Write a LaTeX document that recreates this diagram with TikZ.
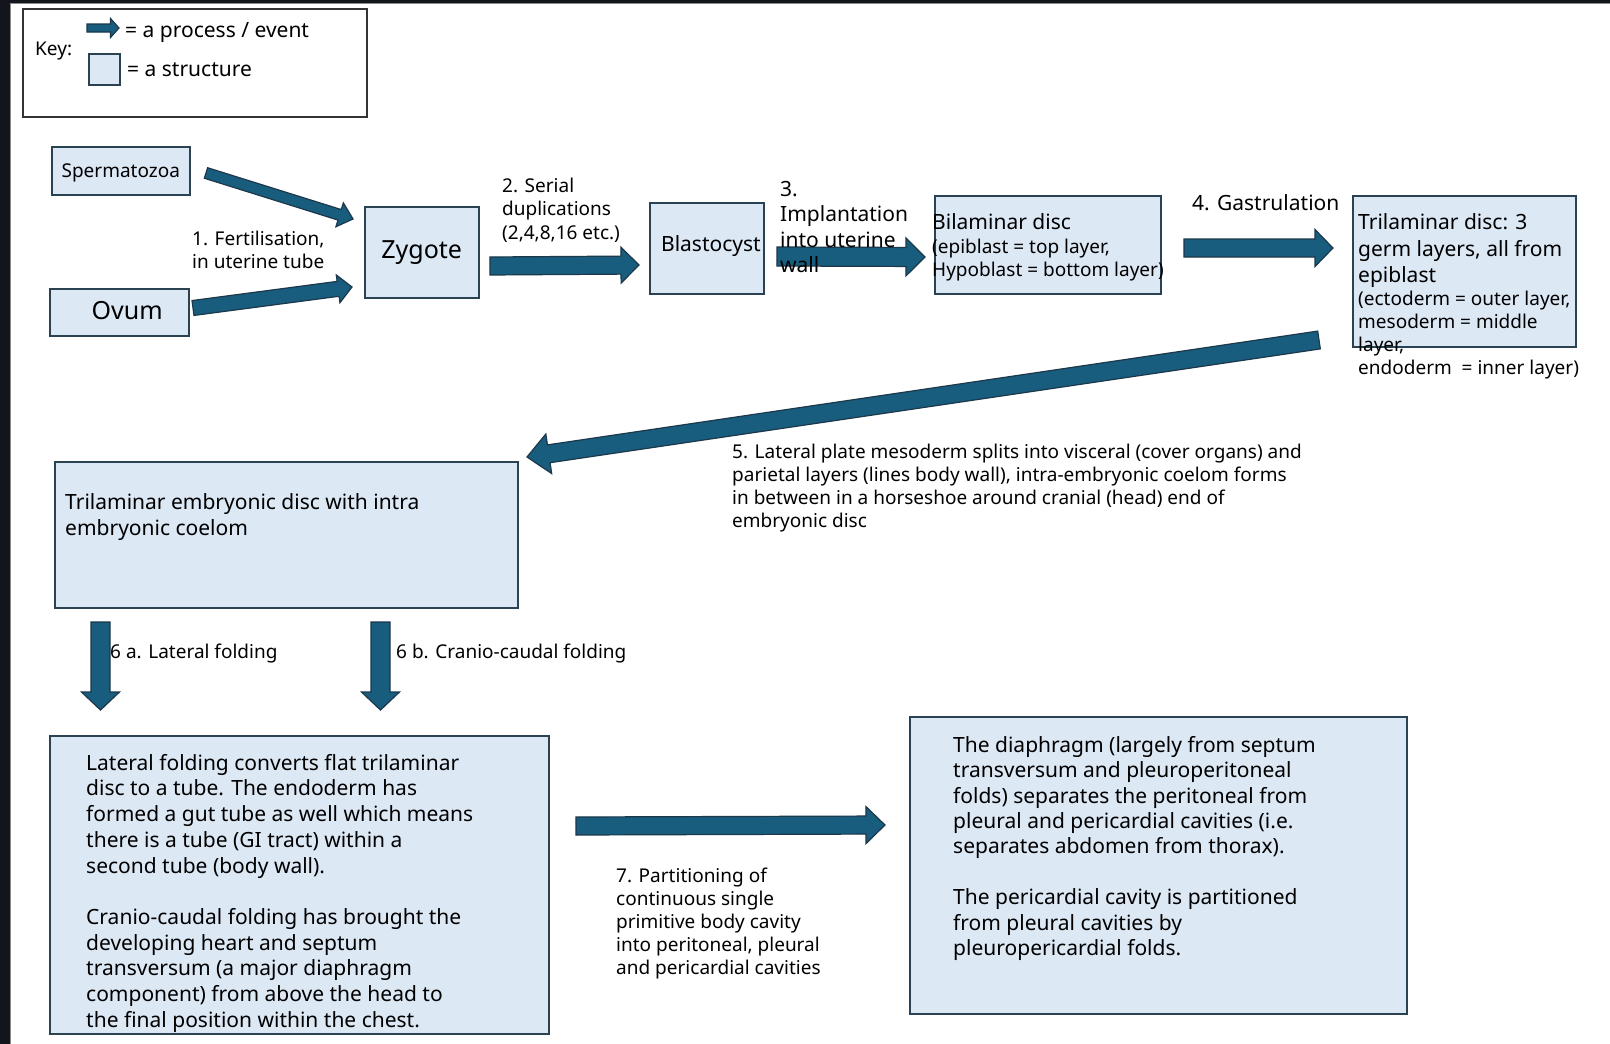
\documentclass[tikz,border=0pt]{standalone}
\usepackage{fontspec}
\setmainfont{Noto Sans}
\usetikzlibrary{calc}
\definecolor{boxfill}{RGB}{221,232,245}
\definecolor{boxline}{RGB}{42,66,82}
\definecolor{arrfill}{RGB}{24,93,125}
\definecolor{arrline}{RGB}{28,56,74}
\definecolor{frameclr}{RGB}{18,22,28}
\newcommand{\fszA}{\fontsize{21pt}{25.9pt}\selectfont}
\newcommand{\fszB}{\fontsize{19pt}{23pt}\selectfont}
\newcommand{\fszC}{\fontsize{25pt}{30pt}\selectfont}
% #1 name, #2 start, #3 end, #4 shaft half width, #5 head half width, #6 head length
\newcommand{\blockarr}[6]{%
  \coordinate (#1-h) at ($(#3)!#6!(#2)$);
  \filldraw[procarrow] ($(#2)!#4!90:(#3)$) -- ($(#1-h)!#4!-90:(#2)$) -- ($(#1-h)!#5!-90:(#2)$) -- (#3) -- ($(#1-h)!#5!90:(#2)$) -- ($(#1-h)!#4!90:(#2)$) -- ($(#2)!#4!-90:(#3)$) -- cycle;
}
\begin{document}
\begin{tikzpicture}[x=1pt,y=-1pt,
  sbox/.style={draw=boxline, fill=boxfill, line width=1.5pt, inner sep=0pt, anchor=north west},
  procarrow/.style={fill=arrfill, draw=arrline, line width=1.2pt, line join=miter},
  tA/.style={inner sep=0pt, anchor=north west, align=left, font=\fszA, execute at begin node=\strut},
  tB/.style={inner sep=0pt, anchor=north west, align=left, font=\fszB, execute at begin node=\strut},
  lA/.style={inner sep=0pt, anchor=base west, font=\fszA},
  lB/.style={inner sep=0pt, anchor=base west, font=\fszB}]

\useasboundingbox (0,0) rectangle (1610,1044);
\fill[white] (0,0) rectangle (1610,1044);
\fill[frameclr] (0,0) rectangle (10,1044);
\fill[frameclr] (0,0) rectangle (1610,3);
\draw[black!45, line width=1.2pt] (10.6,3) -- (10.6,1044);
\draw[black!45, line width=1pt] (10,3.5) -- (1610,3.5);

% key
\node[draw=black!80, line width=1.5pt, minimum width=344pt, minimum height=108pt, anchor=north west, inner sep=0pt] (keybox) at (22,8) {};
\node[sbox, minimum width=31pt, minimum height=31pt] (keysq) at (88,53) {};
\node[lB] (keylbl) at (35,55) {Key:};
\node[lA] (keyproc) at (125,37) {= a process / event};
\node[lA] (keystruct) at (127,76) {= a structure};

% structures
\node[sbox, minimum width=138pt, minimum height=48pt, font=\fszB, text depth=0pt] (sperm) at (51,146) {Spermatozoa};
\node[sbox, minimum width=139pt, minimum height=47pt, font=\fszC, text depth=4pt, text width=87pt, align=right] (ovum) at (49,288) {Ovum};
\node[sbox, minimum width=114pt, minimum height=91pt, font=\fszC] (zygote) at (364,206) {Zygote};
\node[sbox, minimum width=114pt, minimum height=91pt, font=\fszA, text depth=10pt, text width=108pt, align=right] (blast) at (649,202) {Blastocyst};
\node[sbox, minimum width=226pt, minimum height=98pt] (bilam) at (934,195) {};
\node[sbox, minimum width=223pt, minimum height=151pt] (trilam) at (1352,195) {};
\node[sbox, minimum width=463pt, minimum height=146pt] (ted) at (54,461) {};
\node[sbox, minimum width=499pt, minimum height=298pt] (latbox) at (49,735) {};
\node[sbox, minimum width=497pt, minimum height=297pt] (diaph) at (909,716) {};

% process arrows
\coordinate (k1) at (87,28);      \coordinate (k2) at (119,28);
\coordinate (aS1) at (206,173);   \coordinate (aS2) at (353,219);
\coordinate (aO1) at (193,308);   \coordinate (aO2) at (352,287);
\coordinate (a21) at (490,266);   \coordinate (a22) at (639,265);
\coordinate (a31) at (777,256.5); \coordinate (a32) at (925,257);
\coordinate (a41) at (1184,248);  \coordinate (a42) at (1333,248);
\coordinate (a51) at (1319,340);  \coordinate (a52) at (527,457);
\coordinate (a6a1) at (100.5,622); \coordinate (a6a2) at (100.5,710);
\coordinate (a6b1) at (380.5,622); \coordinate (a6b2) at (380.5,710);
\coordinate (a71) at (576,826);   \coordinate (a72) at (885,825);
\blockarr{ka}{k1}{k2}{4pt}{9.5pt}{8.5pt}
\blockarr{aS}{aS1}{aS2}{5.5pt}{12.5pt}{14pt}
\blockarr{aO}{aO1}{aO2}{7.5pt}{14pt}{14pt}
\blockarr{a2}{a21}{a22}{9pt}{18pt}{18pt}
\blockarr{a3}{a31}{a32}{9.5pt}{19pt}{19pt}
\blockarr{a4}{a41}{a42}{9pt}{18.5pt}{18pt}
\blockarr{a5}{a51}{a52}{9pt}{20pt}{22pt}
\blockarr{a6a}{a6a1}{a6a2}{9.5pt}{19pt}{18pt}
\blockarr{a6b}{a6b1}{a6b2}{9.5pt}{19pt}{18pt}
\blockarr{a7}{a71}{a72}{9pt}{18.5pt}{19pt}

% texts
\node[lA] (bilamT) at (932,229) {Bilaminar disc};
\node[tB] (bilamS) at (932,239) {(epiblast = top layer,\\Hypoblast = bottom layer)};
\node[tA, font=\fontsize{21pt}{26.5pt}\selectfont] (trilamT) at (1358,213.5) {Trilaminar disc: 3\\germ layers, all from\\epiblast};
\node[tB] (trilamS) at (1358,291) {(ectoderm = outer layer,\\mesoderm = middle\\layer,\\endoderm~ = inner layer)};
\node[tA, font=\fontsize{21pt}{25.5pt}\selectfont] (lab3) at (780,181) {3.\\Implantation\\into uterine\\wall};
\node[tB, font=\fontsize{19pt}{23.6pt}\selectfont] (lab2) at (502,177.5) {2. Serial\\duplications\\(2,4,8,16 etc.)};
\node[tB] (lab1) at (192,231) {1. Fertilisation,\\in uterine tube};
\node[lA] (lab4) at (1192,210) {4. Gastrulation};
\node[tB] (lab5) at (732,444) {5. Lateral plate mesoderm splits into visceral (cover organs) and\\parietal layers (lines body wall), intra-embryonic coelom forms\\in between in a horseshoe around cranial (head) end of\\embryonic disc};
\node[lB] (lab6a) at (110,658) {6 a. Lateral folding};
\node[lB] (lab6b) at (396,658) {6 b. Cranio-caudal folding};
\node[tB] (lab7) at (616,868) {7. Partitioning of\\continuous single\\primitive body cavity\\into peritoneal, pleural\\and pericardial cavities};
\node[tA] (tedT) at (65,493) {Trilaminar embryonic disc with intra\\embryonic coelom};
\node[tA, font=\fontsize{21pt}{25.7pt}\selectfont] (latT) at (86,754) {Lateral folding converts flat trilaminar\\disc to a tube. The endoderm has\\formed a gut tube as well which means\\there is a tube (GI tract) within a\\second tube (body wall).\\[25.7pt]Cranio-caudal folding has brought the\\developing heart and septum\\transversum (a major diaphragm\\component) from above the head to\\the final position within the chest.};
\node[tA, font=\fontsize{21pt}{25.4pt}\selectfont] (diaT) at (953,736) {The diaphragm (largely from septum\\transversum and pleuroperitoneal\\folds) separates the peritoneal from\\pleural and pericardial cavities (i.e.\\separates abdomen from thorax).\\[25.4pt]The pericardial cavity is partitioned\\from pleural cavities by\\pleuropericardial folds.};
\end{tikzpicture}
\end{document}
